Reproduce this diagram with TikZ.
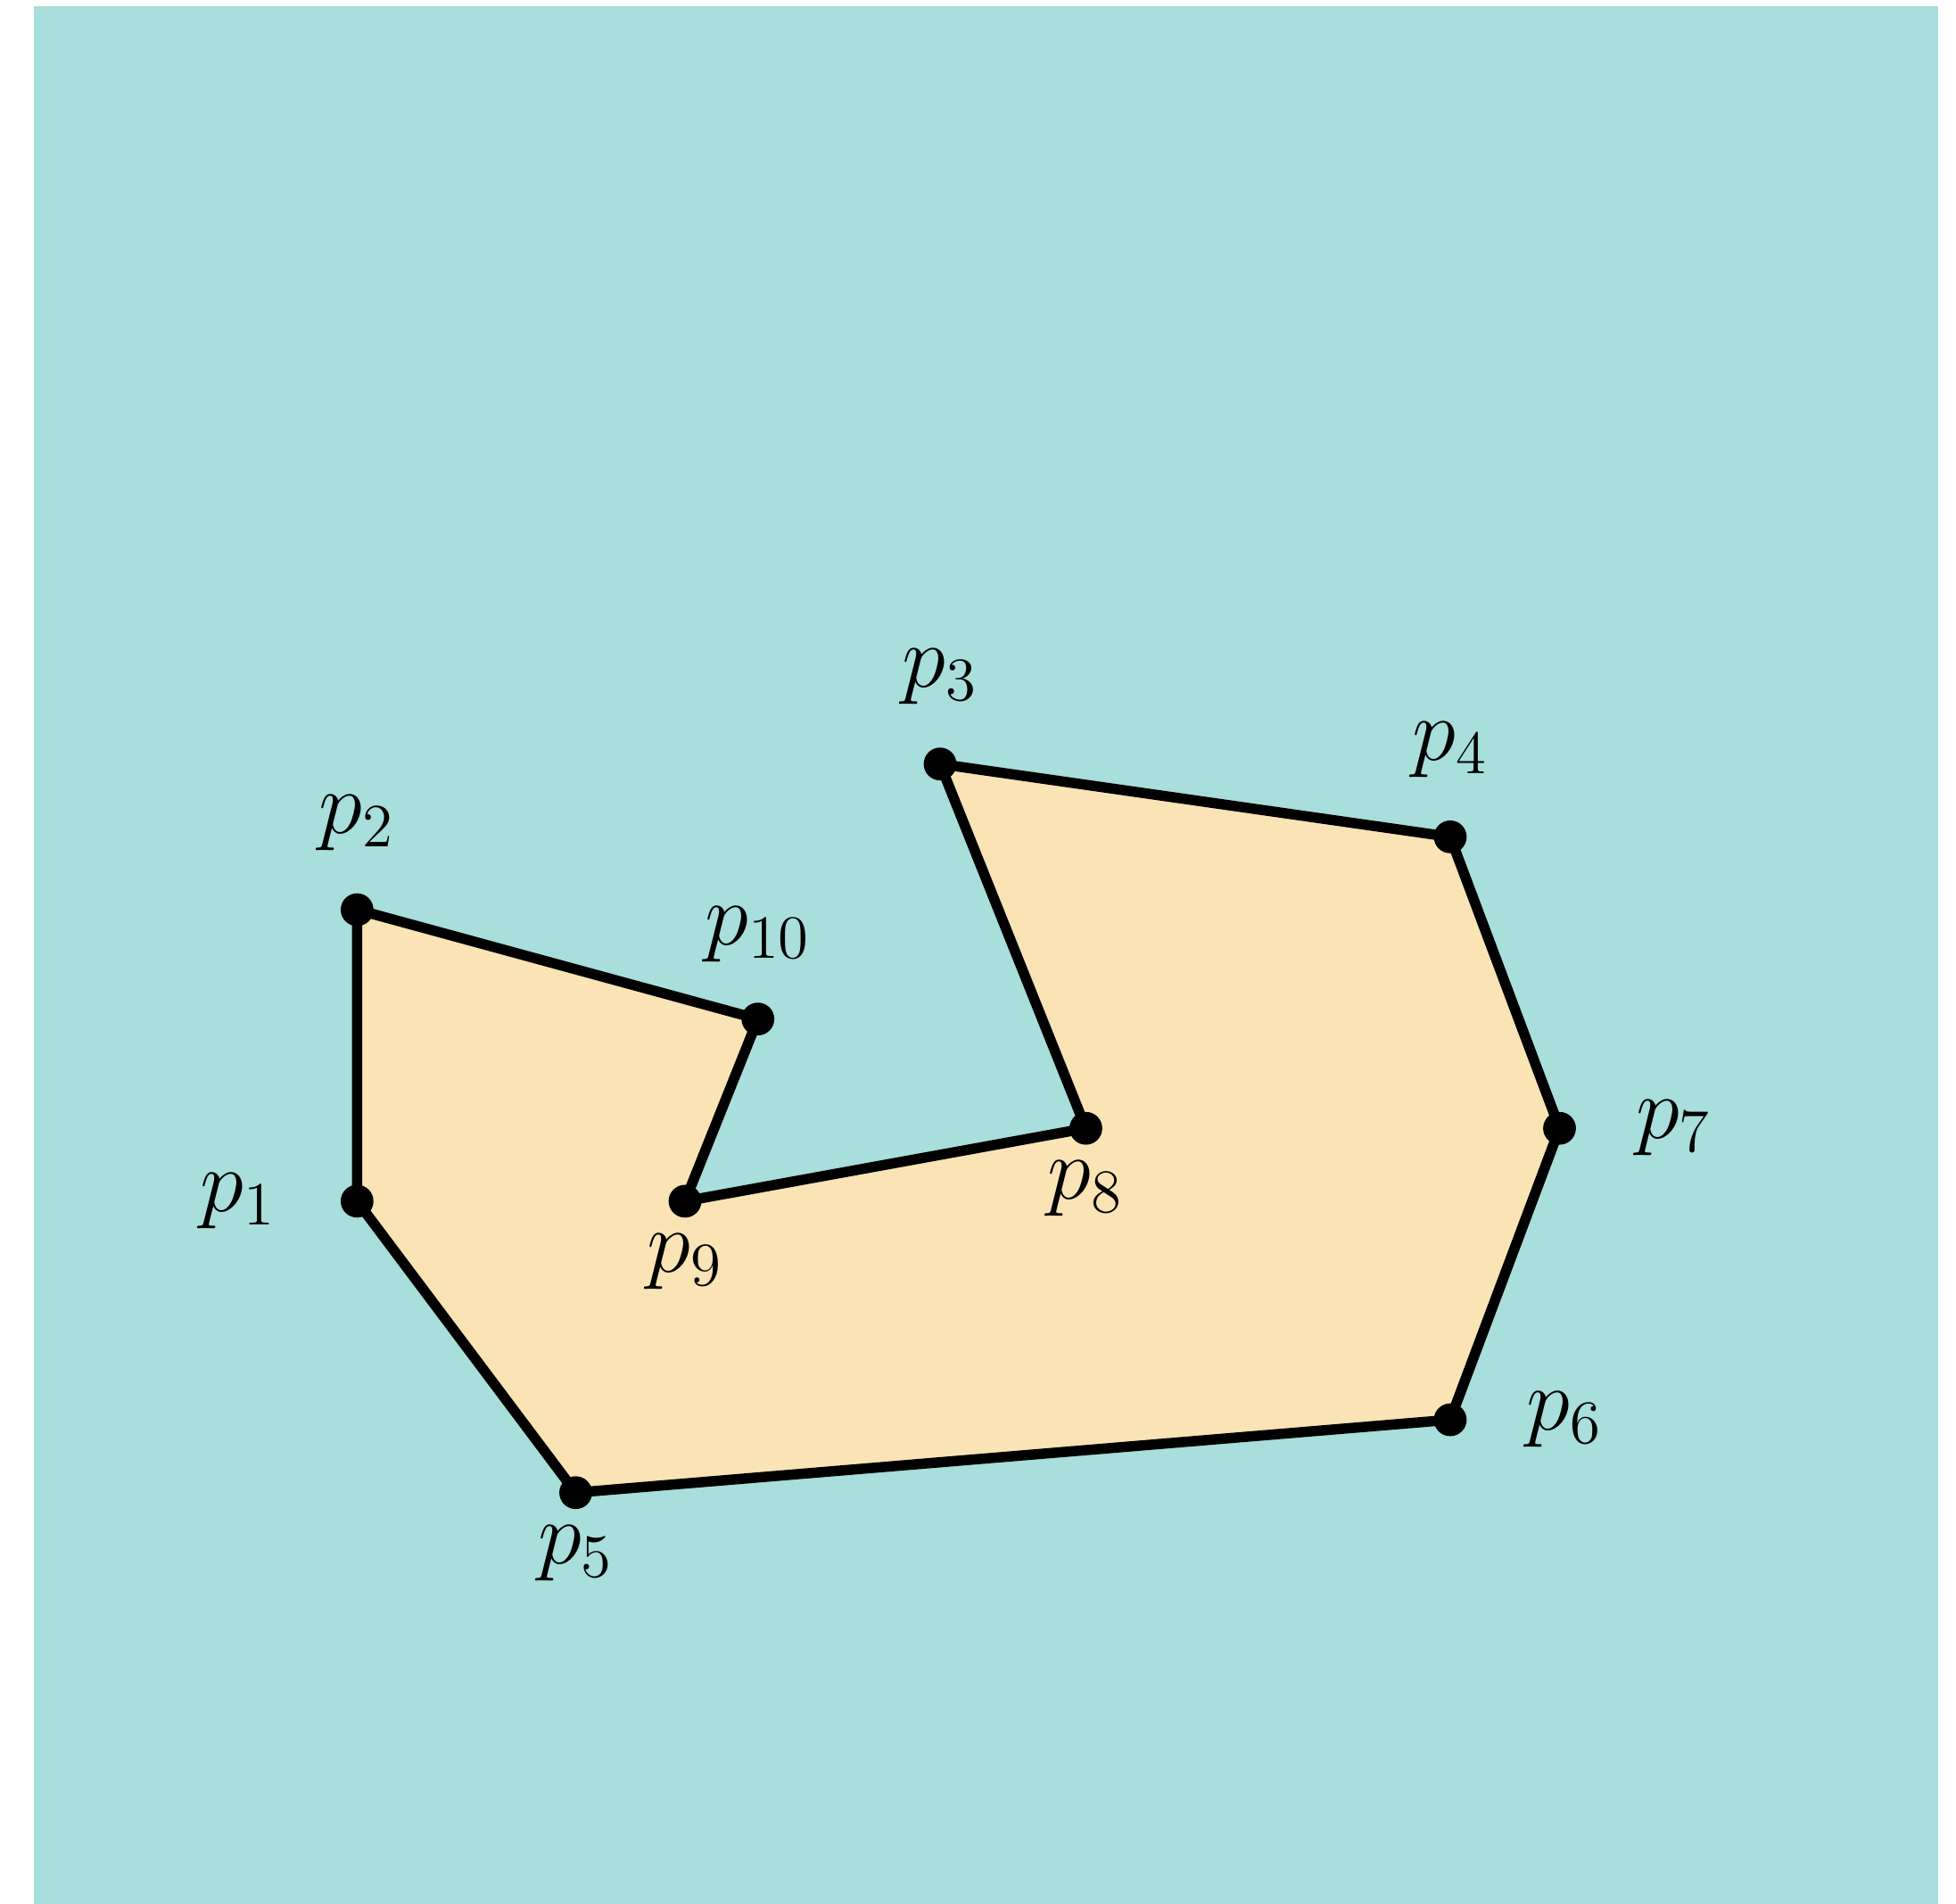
\documentclass[tikz,border=0pt]{standalone}
\usepackage{amsmath,amssymb}
\usepackage{xcolor}
\usepackage{tikz}
\usetikzlibrary{positioning,backgrounds}

\definecolor{seafoam}{RGB}{168,222,220}
\definecolor{sand}{RGB}{250,227,181}

\begin{document}
\begin{tikzpicture}[
    x=0.3cm, y=0.3cm,
    vertex/.style={circle, fill=black, inner sep=0pt, minimum size=0.27cm},
    lbl/.style={inner sep=0pt, font=\fontsize{22}{26}\selectfont},
    edge/.style={draw=black, line width=2.4pt, line join=round, fill=sand}
]
    \useasboundingbox (-9.80,-19.29) rectangle (43.88,32.97);

    % polygon corners
    \node [vertex] (p1) at (0,0) {};
    \node [vertex] (p2) at (0,8) {};
    \node [vertex] (p3) at (16,12) {};
    \node [vertex] (p4) at (30,10) {};
    \node [vertex] (p5) at (6,-8) {};
    \node [vertex] (p6) at (30,-6) {};
    \node [vertex] (p7) at (33,2) {};
    \node [vertex] (p8) at (20,2) {};
    \node [vertex] (p9) at (9,0) {};
    \node [vertex] (p10) at (11,5) {};

    % labels
    \node [lbl, left=0.52cm of p1] (l1) {$p_1$};
    \node [lbl, above=0.34cm of p2] (l2) {$p_2$};
    \node [lbl, above=0.34cm of p3] (l3) {$p_3$};
    \node [lbl, above=0.34cm of p4] (l4) {$p_4$};
    \node [lbl, below=0.12cm of p5] (l5) {$p_5$};
    \node [lbl, right=0.48cm of p6] (l6) {$p_6$};
    \node [lbl, right=0.48cm of p7] (l7) {$p_7$};
    \node [lbl, below=0.12cm of p8] (l8) {$p_8$};
    \node [lbl, below=0.12cm of p9] (l9) {$p_9$};
    \node [lbl, above=0.32cm of p10] (l10) {$p_{10}$};

    \begin{scope}[on background layer]
        \fill [seafoam] (-8.86,-19.29) rectangle (43.38,32.80);
        \draw [edge] (p1.center) -- (p2.center) -- (p10.center) -- (p9.center)
            -- (p8.center) -- (p3.center) -- (p4.center) -- (p7.center)
            -- (p6.center) -- (p5.center) -- cycle;
    \end{scope}
\end{tikzpicture}
\end{document}
